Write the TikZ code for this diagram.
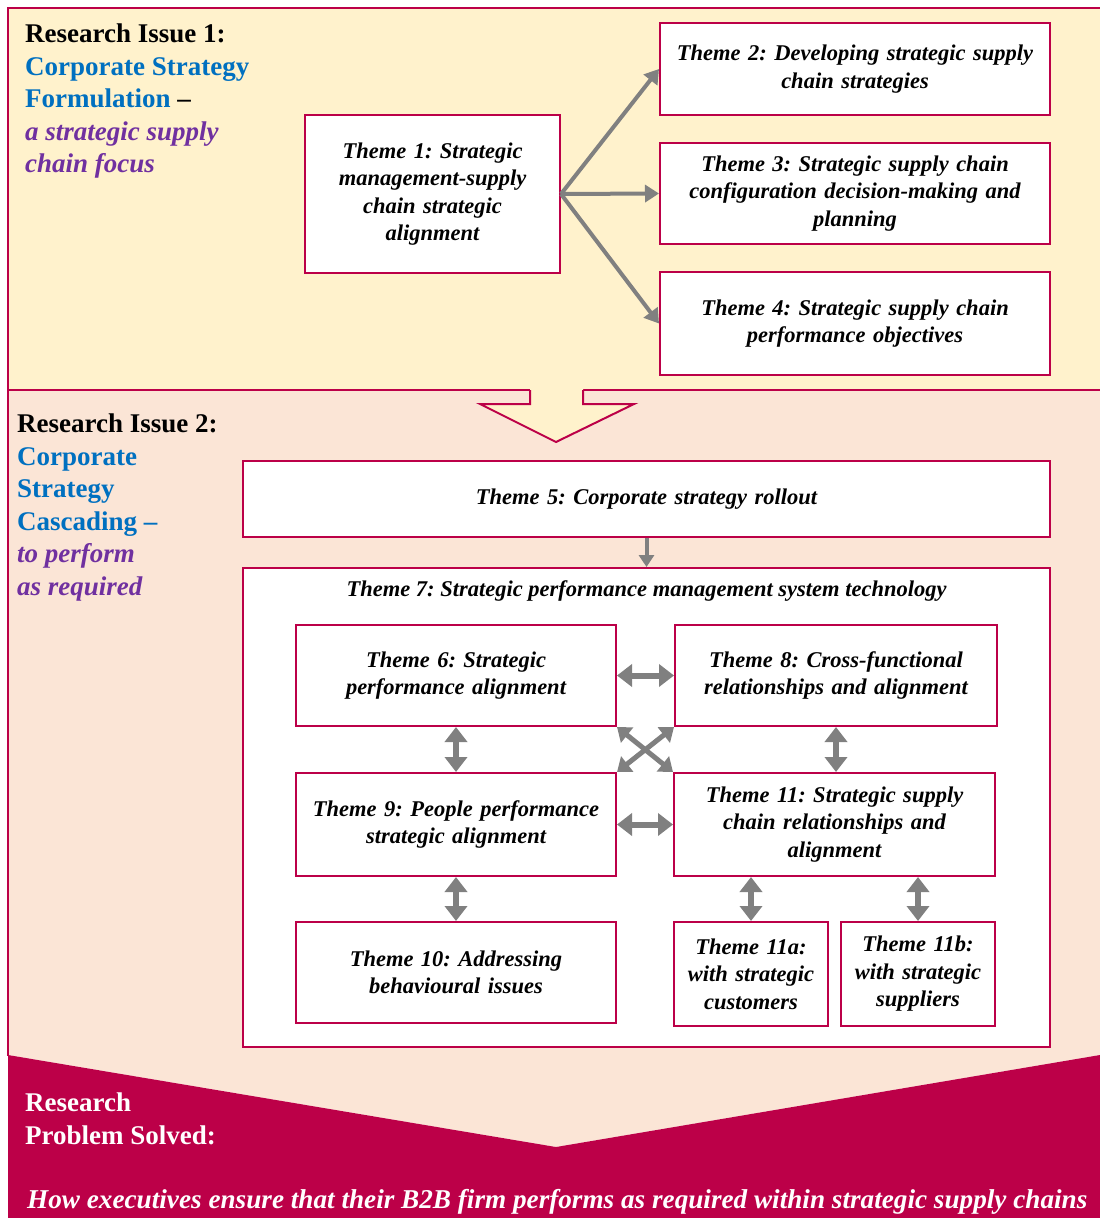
\documentclass[tikz,border=0pt]{standalone}
\usepackage{fontspec}
\setmainfont{Liberation Serif}
\usetikzlibrary{arrows.meta,calc}
\definecolor{crim}{RGB}{188,0,72}
\definecolor{creamc}{RGB}{255,242,204}
\definecolor{peachc}{RGB}{251,229,214}
\definecolor{bluec}{RGB}{0,112,192}
\definecolor{purplec}{RGB}{112,48,160}
\definecolor{grayc}{RGB}{128,128,128}
\frenchspacing
\begin{document}
\begin{tikzpicture}[x=1pt,y=-1pt,
  theme/.style={draw=crim,line width=2pt,fill=white,inner sep=0pt,align=center,
    font=\fontsize{22.5}{27.5}\selectfont\bfseries\itshape},
  heading/.style={anchor=north west,inner sep=0pt,align=left,
    font=\fontsize{27}{32.5}\selectfont\bfseries},
  onearrow/.style={draw=grayc,line width=4pt,-{Triangle[width=17pt,length=14pt]}},
  twoarrow/.style={draw=grayc,line width=6pt,
    {Triangle[width=22pt,length=15pt]}-{Triangle[width=22pt,length=15pt]}},
  crossarrow/.style={draw=grayc,line width=5pt,
    {Triangle[width=19pt,length=13pt]}-{Triangle[width=19pt,length=13pt]}},
  downarrow/.style={draw=grayc,line width=4pt,-{Triangle[width=15pt,length=12pt]}}
]
\useasboundingbox (0,0) rectangle (1100,1218);
% backgrounds
\fill[creamc] (8,8) rectangle (1100,390);
\fill[peachc] (8,390) -- (1100,390) -- (1100,1055) -- (556,1147) -- (8,1055) -- cycle;
\fill[crim] (8,1055) -- (556,1147) -- (1100,1055) -- (1100,1218) -- (8,1218) -- cycle;
\draw[crim,line width=2pt] (1100,8) -- (8,8) -- (8,1056);
\draw[crim,line width=2pt] (8,390) -- (1100,390);
% block arrow between bands
\fill[creamc] (530,388) -- (530,404) -- (480,404) -- (556,442) -- (634,404) -- (583,404) -- (583,388) -- cycle;
\draw[crim,line width=2pt] (530,390) -- (530,404) -- (480,404) -- (556,442) -- (634,404) -- (583,404) -- (583,390);

% headings
\node[heading] (ri1) at (25,24) {Research Issue 1:\\
  \textcolor{bluec}{Corporate Strategy}\\
  \textcolor{bluec}{Formulation} --\\
  \textcolor{purplec}{\itshape a strategic supply}\\
  \textcolor{purplec}{\itshape chain focus}};
\node[heading] (ri2) at (17,414) {Research Issue 2:\\
  \textcolor{bluec}{Corporate}\\
  \textcolor{bluec}{Strategy}\\
  \textcolor{bluec}{Cascading --}\\
  \textcolor{purplec}{\itshape to perform}\\
  \textcolor{purplec}{\itshape as required}};

% top band themes
\node[theme,minimum width=255pt,minimum height=158pt,text width=252pt] (t1) at (432.5,194)
  {Theme 1: Strategic\\ management-supply\\ chain strategic\\ alignment};
\node[theme,minimum width=390pt,minimum height=92pt,text width=386pt] (t2) at (855,69)
  {Theme 2: Developing strategic supply\\ chain strategies};
\node[theme,minimum width=390pt,minimum height=101pt,text width=386pt] (t3) at (855,193.5)
  {Theme 3: Strategic supply chain\\ configuration decision-making and\\ planning};
\node[theme,minimum width=390pt,minimum height=103pt,text width=386pt] (t4) at (855,323.5)
  {Theme 4: Strategic supply chain\\ performance objectives};
\draw[onearrow] (t1.east) -- (t2.west);
\draw[onearrow] (t1.east) -- (t3.west);
\draw[onearrow] (t1.east) -- (t4.west);

% second band
\node[theme,minimum width=807pt,minimum height=76pt,text width=800pt] (t5) at (646.5,499)
  {Theme 5: Corporate strategy rollout};
\node[draw=crim,line width=2pt,fill=white,inner sep=0pt,minimum width=807pt,minimum height=479pt] (t7) at (646.5,807.5) {};
\node[inner sep=0pt,font=\fontsize{22.5}{27}\selectfont\bfseries\itshape] (t7t) at (646.5,591)
  {Theme 7: Strategic performance management system technology};
\draw[downarrow] (t5.south) -- (t5.south |- t7.north);

\node[theme,minimum width=320pt,minimum height=101pt,text width=318pt] (t6) at (456,675.5)
  {Theme 6: Strategic\\ performance alignment};
\node[theme,minimum width=322pt,minimum height=101pt,text width=320pt] (t8) at (836,675.5)
  {Theme 8: Cross-functional\\ relationships and alignment};
\node[theme,minimum width=320pt,minimum height=103pt,text width=318pt] (t9) at (456,824.5)
  {Theme 9: People performance\\ strategic alignment};
\node[theme,minimum width=321pt,minimum height=103pt,text width=319pt] (t11) at (834.5,824.5)
  {Theme 11: Strategic supply\\ chain relationships and\\ alignment};
\node[theme,minimum width=320pt,minimum height=101pt,text width=318pt] (t10) at (456,972.5)
  {Theme 10: Addressing\\ behavioural issues};
\node[theme,minimum width=154pt,minimum height=104pt,text width=153pt] (t11a) at (751,974)
  {Theme 11a:\\ with strategic\\ customers};
\node[theme,minimum width=154pt,minimum height=104pt,text width=153pt] (t11b) at (918,974)
  {Theme 11b:\\ with strategic\\ suppliers};

\draw[twoarrow] (t6.east) -- (t6.east -| t8.west);
\draw[twoarrow] (t9.east) -- (t9.east -| t11.west);
\draw[twoarrow] (t6.south) -- (t9.north);
\draw[twoarrow] (t9.south) -- (t10.north);
\draw[twoarrow] (t11.north -| t8.south) -- (t8.south);
\draw[twoarrow] (t11a.north) -- (t11a.north |- t11.south);
\draw[twoarrow] (t11b.north) -- (t11b.north |- t11.south);
\draw[crossarrow] (t6.south east) -- (t11.north west);
\draw[crossarrow] (t8.south west) -- (t9.north east);

% bottom
\node[heading,text=white,font=\fontsize{27}{32.5}\selectfont\bfseries] (rps) at (25,1093)
  {Research\\ Problem Solved:};
\node[anchor=base west,inner sep=0pt,text=white,font=\fontsize{27.2}{30}\selectfont\bfseries\itshape] (hq) at (27,1208)
  {How executives ensure that their B2B firm performs as required within strategic supply chains};
\end{tikzpicture}
\end{document}
